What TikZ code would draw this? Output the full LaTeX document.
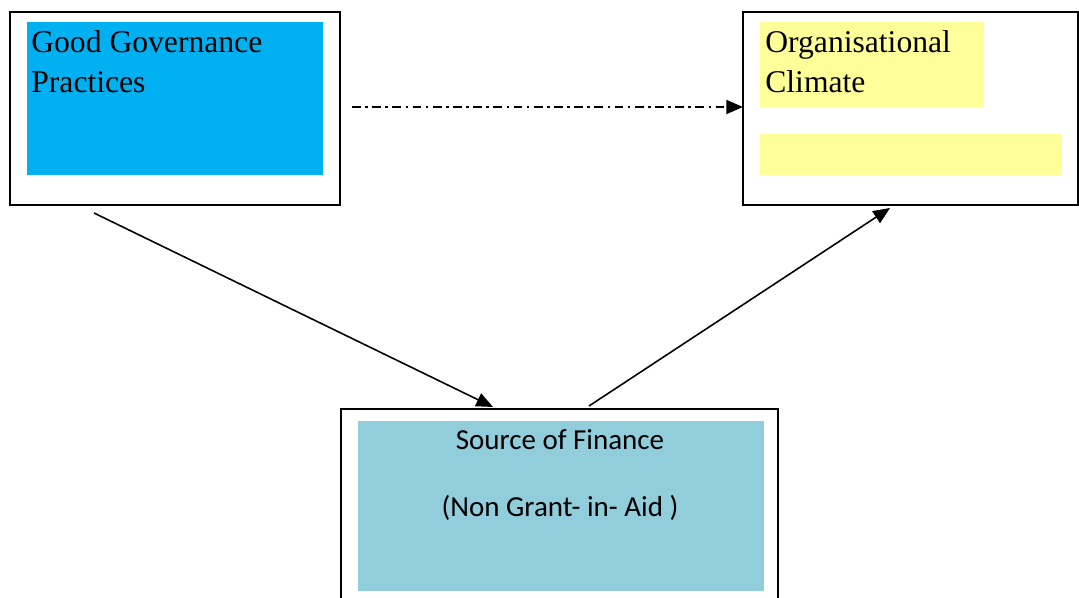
\documentclass[tikz,border=0pt]{standalone}
\usepackage{fontspec}
\setmainfont{Liberation Serif}
\newfontfamily\bodyfont{Carlito}
\usetikzlibrary{arrows.meta}
\definecolor{govblue}{HTML}{00B0F0}
\definecolor{climyellow}{HTML}{FFFF99}
\definecolor{finteal}{HTML}{92CDDC}
\tikzset{
  outerbox/.style={draw,line width=1.1pt,inner sep=0pt},
  fillbox/.style={fill=#1,inner sep=0pt},
  headtext/.style={anchor=base west,inner sep=0pt,align=left,font=\fontsize{18}{23.2}\selectfont},
  fintext/.style={anchor=base,inner sep=0pt,font=\bodyfont\fontsize{16.5}{20}\selectfont},
  link/.style={line width=0.9pt,-{Triangle[length=9.5pt,width=8pt]}}
}

\begin{document}
\begin{tikzpicture}[x=0.02cm,y=-0.02cm]
 \useasboundingbox (0,0) rectangle (1079,598);

 % boxes
 \node[outerbox,minimum width=6.6cm,minimum height=3.86cm] (gg) at (175,108.5) {};
 \node[outerbox,minimum width=6.7cm,minimum height=3.86cm] (oc) at (910.5,108.5) {};
 \node[outerbox,minimum width=8.74cm,minimum height=4.62cm] (sf) at (559.5,524.5) {};

 % coloured fills
 \node[fillbox=govblue,minimum width=5.92cm,minimum height=3.06cm] (ggfill) at (175,98.5) {};
 \node[fillbox=climyellow,minimum width=4.48cm,minimum height=1.7cm] (ocfillA) at (872,64.5) {};
 \node[fillbox=climyellow,minimum width=6.04cm,minimum height=0.82cm] (ocfillB) at (911,154.5) {};
 \node[fillbox=finteal,minimum width=8.12cm,minimum height=3.4cm] (sffill) at (561,506) {};

 % labels (base = last line)
 \node[headtext] (ggtext) at (31,93) {Good Governance\\Practices};
 \node[headtext] (octext) at (765,93) {Organisational\\Climate};
 \node[fintext] (sftitle) at (560,449) {Source of Finance};
 \node[fintext] (sfsub) at (560,516) {(Non Grant- in- Aid )};

 % arrows
 \coordinate (ggout) at (94,213);
 \coordinate (sfin) at (493,407);
 \coordinate (sfout) at (589,406);
 \coordinate (ocin) at (890,208);
 \coordinate (dashstart) at (352,107);
 \coordinate (dashend) at (743,107);
 \draw[link] (ggout) -- (sfin);
 \draw[link] (sfout) -- (ocin);
 \draw[link,dash pattern=on 5pt off 2.5pt on 1.5pt off 2.5pt] (dashstart) -- (dashend);

\end{tikzpicture}
\end{document}
